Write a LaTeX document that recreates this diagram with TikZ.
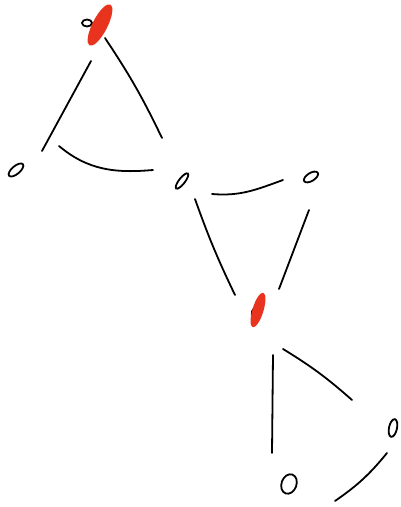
\documentclass[tikz,border=0pt]{standalone}
\usepackage{xcolor}
\usepackage{tikz}
\usetikzlibrary{shapes.geometric, calc}

\definecolor{scribble}{HTML}{E8341F}

\tikzset{
  vertex/.style={ellipse, draw, line width=1.8pt, inner sep=0pt, minimum width=16pt, minimum height=7pt},
  marked/.style={ellipse, fill=scribble, inner sep=0pt},
  edge/.style={line width=1.8pt, line cap=round},
}

\begin{document}
\begin{tikzpicture}[x=1pt,y=1pt]
  \useasboundingbox (0,0) rectangle (401,507);
  % Vertices
  \node[vertex, minimum width=10pt, minimum height=7pt] (a) at (87,484) {};
  \node[marked, minimum width=46pt, minimum height=15pt, rotate=63] (amark) at (100,482) {};
  \node[vertex, minimum width=18pt, minimum height=8pt, rotate=40] (b) at (16,337) {};
  \node[vertex, minimum width=19pt, minimum height=6pt, rotate=52] (c) at (182,326) {};
  \node[vertex, minimum width=16pt, minimum height=8pt, rotate=32] (d) at (311,330) {};
  \node[vertex, minimum width=10pt, minimum height=6pt, rotate=70] (e) at (255,195) {};
  \node[marked, minimum width=36pt, minimum height=11pt, rotate=73] (emark) at (258,197) {};
  \node[vertex, minimum width=20pt, minimum height=15pt, rotate=70] (f) at (289,23) {};
  \node[vertex, minimum width=18pt, minimum height=8pt, rotate=78] (g) at (393,79) {};
  % Top triangle
  \draw[edge] ([shift={(-9,-36)}]amark.center) -- ([shift={(26,19)}]b.center);
  \draw[edge] ([shift={(5,-13)}]amark.center) to[bend left=4] ([shift={(-20,43)}]c.center);
  \draw[edge] ([shift={(43,24)}]b.center) to[out=-40, in=185] ([shift={(-29,11)}]c.center);
  % Middle triangle
  \draw[edge] ([shift={(30,-13)}]c.center) to[out=-5, in=200] ([shift={(-28,-3)}]d.center);
  \draw[edge] ([shift={(13,-18)}]c.center) to[bend right=3] ([shift={(-23,15)}]emark.center);
  \draw[edge] ([shift={(-2,-33)}]d.center) -- ([shift={(21,21)}]emark.center);
  % Bottom triangle
  \draw[edge] ([shift={(15,-45)}]emark.center) -- ([shift={(-17,31)}]f.center);
  \draw[edge] ([shift={(25,-39)}]emark.center) to[bend left=5] ([shift={(-41,28)}]g.center);
  \draw[edge] ([shift={(46,-17)}]f.center) to[bend right=8] ([shift={(-6,-25)}]g.center);
\end{tikzpicture}
\end{document}
